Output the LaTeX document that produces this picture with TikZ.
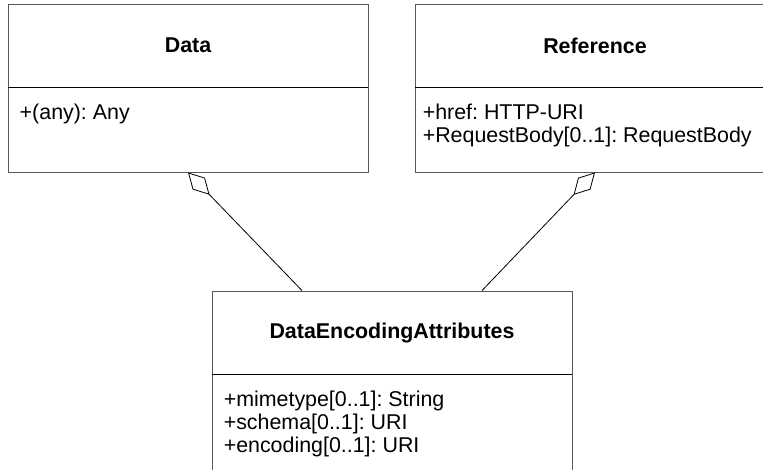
\documentclass[tikz,border=0pt]{standalone}
\usepackage{fontspec}
\setmainfont{Liberation Sans}
\usetikzlibrary{arrows.meta,positioning}
\tikzset{>=stealth}
\frenchspacing

\begin{document}
\begin{tikzpicture}[x=1pt,y=-1pt,font=\fontsize{21.4}{23}\selectfont,
    classbox/.style={draw=black!65,line width=0.9pt,minimum width=360pt,
      minimum height=168pt,inner sep=0pt},
    classname/.style={font=\fontsize{21.4}{23}\selectfont\bfseries},
    attrs/.style={anchor=north west,align=left,inner sep=0pt},
    divider/.style={line width=0.8pt},
    aggr/.style={line width=0.8pt,-{Diamond[open,length=31pt,width=17pt]}}]

\useasboundingbox (0,0) rectangle (763,469);

% the three classes
\node[classbox] (data) at (188,88) {};
\node[classbox] (ref) at (595,88) {};
\node[classbox,minimum height=190pt] (enc) at (392,386) {};

% name compartment
\node[classname] (dataname) at ([yshift=-42pt]data.north) {Data};
\node[classname] (refname) at ([yshift=-42pt]ref.north) {Reference};
\node[classname] (encname) at ([yshift=-42pt]enc.north) {DataEncodingAttributes};

% compartment lines
\foreach \c in {data,ref,enc} {
  \draw[divider] ([yshift=-84pt]\c.north west) -- ([yshift=-84pt]\c.north east);
}

% attributes
\node[attrs] (dataattr) at ([xshift=12pt,yshift=-100pt]data.north west)
  {+(any): Any};
\node[attrs] (refattr) at ([xshift=8pt,yshift=-100pt]ref.north west)
  {+href: HTTP-URI\\+RequestBody[0..1]: RequestBody};
\node[attrs] (encattr) at ([xshift=12pt,yshift=-100pt]enc.north west)
  {+mimetype[0..1]: String\\+schema[0..1]: URI\\+encoding[0..1]: URI};

% aggregations
\draw[aggr] ([xshift=-90pt]enc.north) -- (data.south);
\draw[aggr] ([xshift=90pt]enc.north) -- (ref.south);
\end{tikzpicture}
\end{document}
